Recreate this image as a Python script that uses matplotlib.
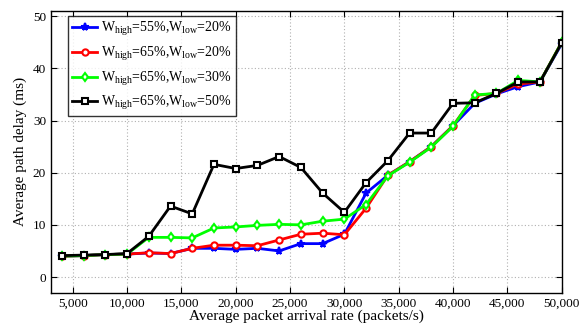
import matplotlib
matplotlib.use("Agg")
import matplotlib.pyplot as plt
from matplotlib.ticker import FuncFormatter, MultipleLocator

plt.rcParams['font.family'] = ['Liberation Serif', 'DejaVu Serif']
plt.rcParams['mathtext.fontset'] = 'custom'
plt.rcParams['mathtext.rm'] = 'Liberation Serif'
plt.rcParams['mathtext.it'] = 'Liberation Serif:italic'

rates = [4000, 6000, 8000, 10000, 12000, 14000, 16000, 18000, 20000, 22000, 24000, 26000,
         28000, 30000, 32000, 34000, 36000, 38000, 40000, 42000, 44000, 46000, 48000, 50000]

w55_20 = [4.0, 4.1, 4.3, 4.4, 4.6, 4.5, 5.5, 5.5, 5.3, 5.5, 5.0, 6.4,
          6.4, 8.2, 16.1, 19.5, 22.1, 25.0, 29.0, 33.3, 35.1, 36.5, 37.4, 44.7]
w65_20 = [4.0, 4.1, 4.3, 4.4, 4.65, 4.5, 5.5, 6.1, 6.1, 6.0, 7.1, 8.2,
          8.4, 8.1, 13.2, 19.5, 22.1, 25.0, 29.0, 34.8, 35.2, 37.0, 37.4, 45.0]
w65_30 = [4.0, 4.1, 4.3, 4.4, 7.6, 7.6, 7.5, 9.4, 9.6, 9.9, 10.1, 10.0,
          10.7, 11.1, 13.9, 19.4, 22.0, 24.9, 28.9, 34.9, 35.2, 37.7, 37.4, 45.0]
w65_50 = [4.1, 4.2, 4.3, 4.5, 7.8, 13.6, 12.1, 21.6, 20.8, 21.4, 23.1, 21.0,
          16.1, 12.4, 18.1, 22.3, 27.6, 27.6, 33.3, 33.4, 35.2, 37.4, 37.4, 44.9]

labels = [r'W$_{\mathrm{high}}$=55%,W$_{\mathrm{low}}$=20%',
          r'W$_{\mathrm{high}}$=65%,W$_{\mathrm{low}}$=20%',
          r'W$_{\mathrm{high}}$=65%,W$_{\mathrm{low}}$=30%',
          r'W$_{\mathrm{high}}$=65%,W$_{\mathrm{low}}$=50%']

fig = plt.figure(figsize=(5.86, 3.27), dpi=100)
ax = fig.add_axes([0.087, 0.105, 0.8715, 0.8614])

styles = [
    (w55_20, '#0000ff', '*', 5.5),
    (w65_20, '#ff0000', 'o', 4.5),
    (w65_30, '#00ff00', 'd', 4.5),
    (w65_50, '#000000', 's', 4.5),
]
for (vals, col, mk, ms), lab in zip(styles, labels):
    ax.plot(rates, vals, color=col, marker=mk, markersize=ms, linewidth=2,
            markerfacecolor='white' if mk != '*' else col, markeredgecolor=col,
            markeredgewidth=1.5, label=lab)

ax.set_xlim(3000, 50000)
ax.set_ylim(-3, 51)
ax.xaxis.set_major_locator(MultipleLocator(5000))
ax.yaxis.set_major_locator(MultipleLocator(10))
ax.xaxis.set_major_formatter(FuncFormatter(lambda v, p: f'{int(v):,}'))
ax.grid(True, linestyle=(0, (1, 2)), color='#b0b0b0', linewidth=0.8)
ax.tick_params(direction='in', top=True, right=True, labelsize=9.5, length=4)
for s in ax.spines.values():
    s.set_linewidth(1.0)

ax.set_xlabel('Average packet arrival rate (packets/s)', fontsize=11, labelpad=0)
ax.set_ylabel('Average path delay (ms)', fontsize=11, labelpad=4)

leg = ax.legend(loc='upper left', bbox_to_anchor=(0.033, 0.982), fontsize=10,
                frameon=True, fancybox=False, edgecolor='black', handlelength=1.8,
                borderaxespad=0.0, labelspacing=0.48, handletextpad=0.3, borderpad=0.3)
leg.get_frame().set_linewidth(1.0)

fig.savefig('out.png', dpi=100)
